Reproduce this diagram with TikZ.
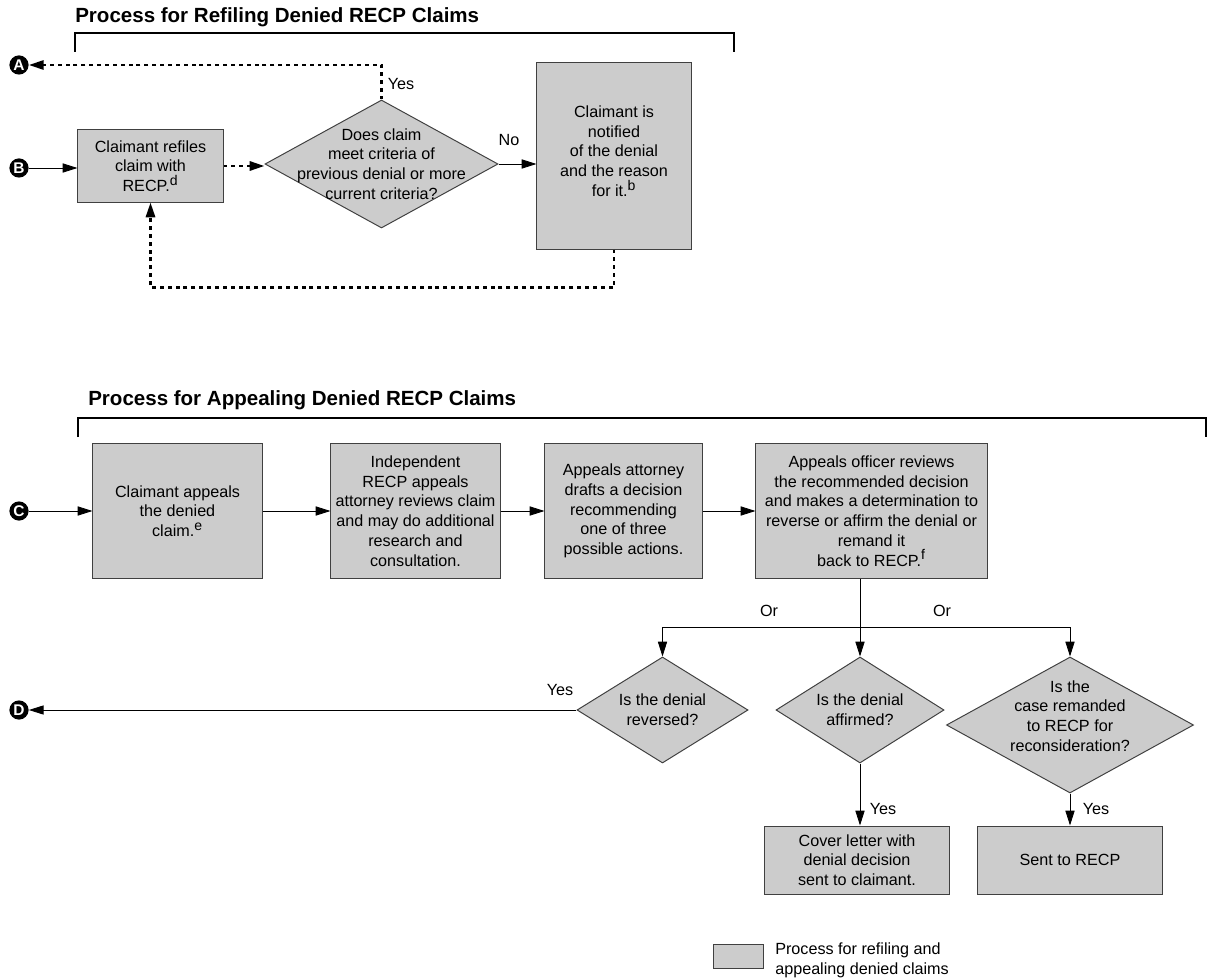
\documentclass[tikz,border=0pt]{standalone}
\usepackage{fontspec}
\setmainfont{Liberation Sans}
\usetikzlibrary{shapes.geometric,arrows.meta}

\begin{document}
\begin{tikzpicture}[x=0.025cm,y=-0.025cm,
    caja/.style={rectangle, draw=black!75, line width=0.7pt, fill=black!20, align=center, inner sep=0pt, font=\fontsize{11.5}{14}\selectfont},
    rombo/.style={diamond, draw=black!75, line width=0.7pt, fill=black!20, align=center, inner sep=-3cm, font=\fontsize{11.5}{14}\selectfont},
    letra/.style={circle, fill=black, text=white, inner sep=0pt, minimum size=0.48cm, font=\bfseries\fontsize{11}{11}\selectfont},
    titulo/.style={anchor=west, inner sep=0pt, font=\bfseries\fontsize{14.6}{16}\selectfont},
    texto/.style={inner sep=0pt, font=\fontsize{11.5}{14}\selectfont},
    flecha/.style={-{Triangle[length=10.5pt,width=6.5pt]}, line width=0.6pt},
    punteada/.style={-{Triangle[length=10.5pt,width=6.5pt]}, line width=1.8pt, dash pattern=on 2.8pt off 2.8pt}]
        \useasboundingbox (0,0) rectangle (1209,978);
        % Reingreso de reclamos
        \node[titulo] (tituloA) at (75,17) {Process for Refiling Denied RECP Claims};
        \draw[line width=1.4pt] (75,52) -- (75,33) -- (734,33) -- (734,52);
        \node[letra] (A) at (19,65) {A};
        \node[letra] (B) at (19,168) {B};
        \node[caja, minimum width=3.625cm, minimum height=1.8cm] (refile) at (150.5,166) {Claimant refiles\\claim with\\RECP.\textsuperscript{\fontsize{10}{10}\selectfont d}};
        \node[rombo, minimum width=5.825cm, minimum height=3.2cm] (criterio) at (381.5,164) {Does claim\\meet criteria of\\previous denial or more\\current criteria?};
        \node[caja, minimum width=3.85cm, minimum height=4.65cm] (notif) at (614,156) {Claimant is\\notified\\of the denial\\and the reason\\for it.\textsuperscript{\fontsize{10}{10}\selectfont b}\\[-7pt]};
        \node[texto] (siA) at (401,84) {Yes};
        \node[texto] (noA) at (509,140) {No};
        \draw[flecha] (B) -- (B -| refile.west);
        \draw[punteada] (refile.east) -- (refile.east -| criterio.west);
        \draw[punteada] (criterio.north) |- (A);
        \draw[flecha] (criterio.east) -- (criterio.east -| notif.west);
        \draw[punteada] (notif.south) -- ++(0,38) -| (refile.south);
        % Apelacion de reclamos
        \node[titulo] (tituloB) at (88,400) {Process for Appealing Denied RECP Claims};
        \draw[line width=1.4pt] (78,437) -- (78,418) -- (1206,418) -- (1206,437);
        \node[letra] (C) at (19,511) {C};
        \node[caja, minimum width=4.225cm, minimum height=3.35cm] (apela) at (177.5,511) {Claimant appeals\\the denied\\claim.\textsuperscript{\fontsize{10}{10}\selectfont e}};
        \node[caja, minimum width=4.225cm, minimum height=3.35cm] (revisa) at (415.5,511) {Independent\\RECP appeals\\attorney reviews claim\\and may do additional\\research and\\consultation.};
        \node[caja, minimum width=3.925cm, minimum height=3.35cm] (redacta) at (623.5,511) {Appeals attorney\\drafts a decision\\recommending\\one of three\\possible actions.};
        \node[caja, minimum width=5.775cm, minimum height=3.35cm] (oficial) at (871.5,511) {Appeals officer reviews\\the recommended decision\\and makes a determination to\\reverse or affirm the denial or\\remand it\\back to RECP.\textsuperscript{\fontsize{10}{10}\selectfont f}};
        \draw[flecha] (C) -- (apela);
        \draw[flecha] (apela) -- (revisa);
        \draw[flecha] (revisa) -- (redacta);
        \draw[flecha] (redacta) -- (oficial);
        % Tres decisiones posibles
        \node[rombo, minimum width=4.275cm, minimum height=2.65cm] (revoca) at (662.5,710) {Is the denial\\reversed?};
        \node[rombo, minimum width=4.2cm, minimum height=2.65cm] (afirma) at (860,710) {Is the denial\\affirmed?};
        \node[rombo, minimum width=6.175cm, minimum height=3.4cm] (remite) at (1070,725) {Is the\\case remanded\\to RECP for\\reconsideration?\\[-1pt]};
        \coordinate (rama) at (860,627);
        \draw[flecha] (oficial.south -| afirma.north) -- (afirma.north);
        \draw[flecha] (rama) -| (revoca.north);
        \draw[flecha] (rama) -| (remite.north);
        \node[texto] (oA) at (769,611) {Or};
        \node[texto] (oB) at (942,611) {Or};
        \node[letra] (D) at (19,710) {D};
        \draw[flecha] (revoca) -- (D);
        \node[texto] (siB) at (560,690) {Yes};
        \node[caja, minimum width=4.6cm, minimum height=1.7cm] (carta) at (857,860) {Cover letter with\\denial decision\\sent to claimant.};
        \node[caja, minimum width=4.625cm, minimum height=1.7cm] (enviado) at (1070,860) {Sent to RECP};
        \draw[flecha] (afirma.south) -- (afirma.south |- carta.north);
        \draw[flecha] (remite) -- (enviado);
        \node[texto] (siC) at (883,809) {Yes};
        \node[texto] (siD) at (1096,809) {Yes};
        % Leyenda
        \node[caja, minimum width=1.25cm, minimum height=0.6cm] (leyenda) at (738,956) {};
        \node[texto, anchor=west, align=left] (textoley) at (775,960) {Process for refiling and\\appealing denied claims};
    \end{tikzpicture}
\end{document}
